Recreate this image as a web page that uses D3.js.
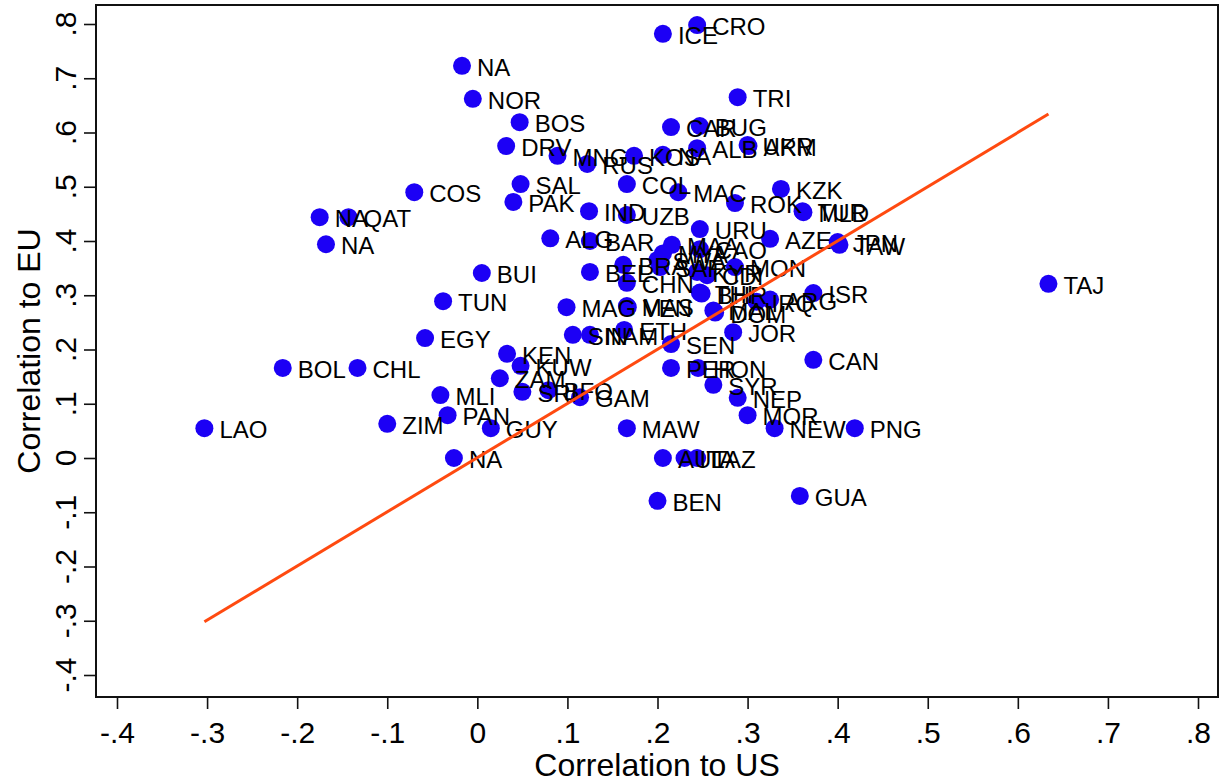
<!DOCTYPE html>
<html>
<head>
<meta charset="utf-8">
<script src="https://cdn.jsdelivr.net/npm/d3@7"></script>
<style>
  html, body { margin: 0; padding: 0; background: #fff; }
  svg { display: block; font-family: "Liberation Sans", Arial, Helvetica, sans-serif; }
</style>
</head>
<body>
<svg id="chart" width="1225" height="784"></svg>
<script>
// Country codes with their correlation to US and to EU
const countries = ["CRO","ICE","NA","NOR","TRI","BOS","CAR","BUG","DRV","MNG","RUS","KOS","NA","ALB","UKR","ARM",
  "COS","SAL","PAK","COL","MAC","ROK","KZK","TUR","MLD","NA","QAT","NA","IND","UZB","URU","ALG","BAR","AZE","JPN","TAW",
  "BUI","TUN","EGY","KEN","KUW","ZAM","SRI","BFO","GAM","MLI","PAN","GUY","NA","ZIM","LAO","BOL","CHL","MAW","AUL","ITA",
  "TAZ","BEN","GUA","PNG","NEW","MOR","NEP","SYR","CAN","PER","HON","SEN","ETH","JOR","SIN","NAM","MAG","MAS","VEN",
  "CHN","BRA","BEL","MYA","SWA","SAF","MAA","CAO","KYR","CDI","MON","THI","BHR","MAL","DOM","IRQ","ARG","ISR","TAJ"];

const corrUS = [0.244,0.206,-0.017,-0.005,0.289,0.047,0.215,0.247,0.032,0.089,0.122,0.174,0.206,0.244,0.300,0.301,
  -0.070,0.048,0.040,0.166,0.223,0.286,0.337,0.361,0.362,-0.175,-0.143,-0.168,0.124,0.166,0.247,0.081,0.125,0.325,0.400,0.402,
  0.005,-0.038,-0.058,0.033,0.048,0.025,0.050,0.079,0.114,-0.041,-0.033,0.015,-0.026,-0.100,-0.303,-0.216,-0.133,0.166,0.206,0.230,
  0.244,0.200,0.358,0.419,0.330,0.300,0.289,0.262,0.373,0.215,0.245,0.215,0.163,0.284,0.106,0.125,0.099,0.166,0.167,
  0.166,0.162,0.125,0.206,0.200,0.203,0.216,0.247,0.244,0.255,0.286,0.247,0.249,0.262,0.264,0.310,0.325,0.373,0.634];

const corrEU = [0.798,0.782,0.723,0.662,0.665,0.619,0.610,0.612,0.575,0.557,0.542,0.557,0.559,0.571,0.577,0.575,
  0.490,0.505,0.472,0.505,0.490,0.470,0.496,0.455,0.453,0.444,0.444,0.394,0.455,0.448,0.422,0.405,0.400,0.404,0.398,0.393,
  0.341,0.289,0.221,0.192,0.170,0.147,0.122,0.125,0.112,0.116,0.079,0.055,0.000,0.063,0.055,0.166,0.166,0.055,0.000,0.000,
  0.000,-0.079,-0.070,0.055,0.055,0.079,0.111,0.135,0.181,0.166,0.166,0.210,0.236,0.232,0.227,0.227,0.278,0.280,0.278,
  0.323,0.356,0.343,0.377,0.365,0.352,0.393,0.385,0.343,0.337,0.352,0.305,0.303,0.272,0.268,0.288,0.292,0.304,0.321];

// Linear fit endpoints (over the range of the US correlations)
const fitUS = [-0.303, 0.634];
const fitEU = [-0.302, 0.634];

// Axis ticks
const xTicks = [-0.4,-0.3,-0.2,-0.1,0,0.1,0.2,0.3,0.4,0.5,0.6,0.7,0.8];
const yTicks = [-0.4,-0.3,-0.2,-0.1,0,0.1,0.2,0.3,0.4,0.5,0.6,0.7,0.8];
const xTitle = "Correlation to US";
const yTitle = "Correlation to EU";

// Stata-style tick text: no leading zero, plain hyphen for negatives
const fmt = v => {
  const t = Math.round(v * 10);
  if (t === 0) return "0";
  return (t < 0 ? "-" : "") + "." + Math.abs(t);
};

const svg = d3.select("#chart");
const frame = { left: 96, right: 1218, top: 5, bottom: 697 };

const x = d3.scaleLinear().domain([-0.4, 0.8]).range([117, 1198]);
const y = d3.scaleLinear().domain([-0.4, 0.8]).range([675, 24]);

// Plot region outline
svg.append("rect")
  .attr("x", frame.left).attr("y", frame.top)
  .attr("width", frame.right - frame.left)
  .attr("height", frame.bottom - frame.top)
  .attr("fill", "none").attr("stroke", "#111").attr("stroke-width", 2);

// X axis
const xAxis = svg.append("g").attr("transform", `translate(0,${frame.bottom})`)
  .call(d3.axisBottom(x).tickValues(xTicks).tickSize(12).tickPadding(13).tickFormat(fmt));
xAxis.select(".domain").remove();
xAxis.selectAll(".tick line").attr("stroke", "#111").attr("stroke-width", 1.6);
xAxis.selectAll(".tick text").attr("font-size", 30).attr("fill", "#000")
  .attr("font-family", "Liberation Sans, Arial, sans-serif");

// Y axis with rotated tick labels
const yAxis = svg.append("g").attr("transform", `translate(${frame.left},0)`)
  .call(d3.axisLeft(y).tickValues(yTicks).tickSize(12).tickFormat(""));
yAxis.select(".domain").remove();
yAxis.selectAll(".tick line").attr("stroke", "#111").attr("stroke-width", 1.6);
svg.append("g").selectAll("text").data(yTicks).join("text")
  .attr("transform", d => `translate(76,${y(d)}) rotate(-90)`)
  .attr("text-anchor", "middle")
  .attr("font-size", 30).attr("fill", "#000")
  .text(fmt);

// Axis titles
svg.append("text")
  .attr("x", (frame.left + frame.right) / 2).attr("y", 776)
  .attr("text-anchor", "middle").attr("font-size", 32).attr("fill", "#000")
  .text(xTitle);
svg.append("text")
  .attr("transform", `translate(40,${(frame.top + frame.bottom) / 2}) rotate(-90)`)
  .attr("text-anchor", "middle").attr("font-size", 32).attr("fill", "#000")
  .text(yTitle);

// Points and their labels
const pts = countries.map((c, i) => ({ c, us: corrUS[i], eu: corrEU[i] }));
const g = svg.append("g");
g.selectAll("circle").data(pts).join("circle")
  .attr("cx", d => x(d.us)).attr("cy", d => y(d.eu))
  .attr("r", 9).attr("fill", "#1c00f5");
g.selectAll("text").data(pts).join("text")
  .attr("x", d => x(d.us) + 15).attr("y", d => y(d.eu) + 10)
  .attr("font-size", 24).attr("fill", "#000")
  .text(d => d.c);

// Fitted line
svg.append("line")
  .attr("x1", x(fitUS[0])).attr("y1", y(fitEU[0]))
  .attr("x2", x(fitUS[1])).attr("y2", y(fitEU[1]))
  .attr("stroke", "#ff4a10").attr("stroke-width", 3);
</script>
</body>
</html>
